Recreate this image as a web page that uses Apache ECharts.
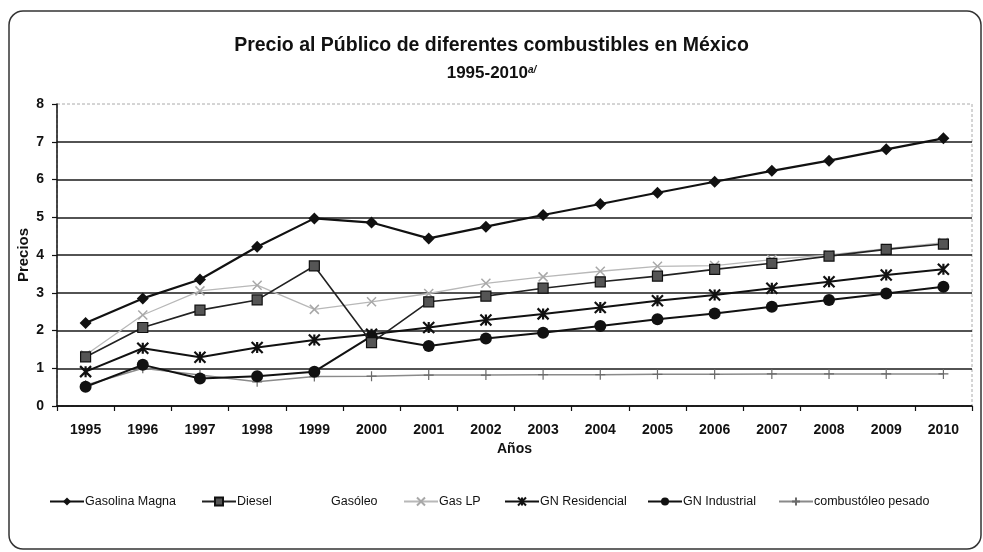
<!DOCTYPE html>
<html>
<head>
<meta charset="utf-8">
<script src="https://cdn.jsdelivr.net/npm/echarts@6/dist/echarts.min.js"></script>
<style>
  html, body { margin: 0; padding: 0; background: #fff; }
  #chart { width: 983px; height: 552px; }
</style>
</head>
<body>
<div id="chart"></div>
<script>
// Años
const years = ['1995', '1996', '1997', '1998', '1999', '2000', '2001', '2002',
               '2003', '2004', '2005', '2006', '2007', '2008', '2009', '2010'];

// Precios por combustible
const gasolinaMagna = [2.20, 2.85, 3.35, 4.22, 4.97, 4.86, 4.44, 4.75, 5.06, 5.35, 5.65, 5.94, 6.23, 6.50, 6.80, 7.09];
const diesel        = [1.30, 2.08, 2.54, 2.81, 3.71, 1.68, 2.76, 2.91, 3.12, 3.29, 3.44, 3.62, 3.78, 3.97, 4.15, 4.29];
const gasoleo       = [];
const gasLP         = [1.35, 2.41, 3.05, 3.20, 2.56, 2.76, 2.98, 3.25, 3.42, 3.57, 3.70, 3.72, 3.88, 4.00, 4.17, 4.33];
const gnResidencial = [0.91, 1.53, 1.29, 1.55, 1.75, 1.90, 2.08, 2.28, 2.44, 2.61, 2.79, 2.94, 3.12, 3.29, 3.47, 3.62];
const gnIndustrial  = [0.51, 1.09, 0.73, 0.79, 0.91, 1.85, 1.59, 1.79, 1.94, 2.12, 2.30, 2.45, 2.63, 2.81, 2.98, 3.16];
const combustoleo   = [0.55, 1.00, 0.82, 0.64, 0.78, 0.79, 0.82, 0.82, 0.83, 0.83, 0.84, 0.84, 0.85, 0.85, 0.85, 0.85];

// Eje Y
const yTicks = [0, 1, 2, 3, 4, 5, 6, 7, 8];

const FONT = '"Liberation Sans", Arial, sans-serif';
const GRID = { left: 57, right: 11, top: 104, bottom: 146 };

const SYM_X = 'path://M0,0L10,10M10,0L0,10';
const SYM_STAR = 'path://M0,0L10,10M10,0L0,10M5,0L5,10';
const SYM_PLUS = 'path://M5,0L5,10M0,5L10,5';

const chart = echarts.init(document.getElementById('chart'), null, { renderer: 'canvas' });

function legendAt(name, left) {
  return {
    data: [name], left: left, top: 495, padding: 0,
    itemWidth: 34, itemHeight: 10, itemGap: 0, selectedMode: false,
    textStyle: { fontFamily: FONT, fontSize: 12.5, color: '#111', padding: [0, 0, 0, -4] }
  };
}

const option = {
  backgroundColor: '#fff',
  animation: false,
  title: [
    {
      text: 'Precio al Público de diferentes combustibles en México',
      left: 'center', top: 31,
      textStyle: { fontFamily: FONT, fontSize: 19.5, fontWeight: 'bold', color: '#111' }
    },
    {
      text: '{a|1995-2010}{s|a/}',
      left: 'center', top: 60,
      textStyle: {
        rich: {
          a: { fontFamily: FONT, fontSize: 17, fontWeight: 'bold', color: '#111' },
          s: { fontFamily: FONT, fontSize: 10, fontWeight: 'bold', fontStyle: 'italic', color: '#111', verticalAlign: 'top' }
        }
      }
    }
  ],
  legend: [
    legendAt('Gasolina Magna', 49),
    legendAt('Diesel', 201),
    legendAt('Gasóleo', 296),
    legendAt('Gas LP', 403),
    legendAt('GN Residencial', 504),
    legendAt('GN Industrial', 647),
    legendAt('combustóleo pesado', 778)
  ],
  grid: GRID,
  xAxis: {
    type: 'category',
    data: years,
    boundaryGap: true,
    name: 'Años',
    nameLocation: 'middle',
    nameGap: 36,
    nameTextStyle: { fontFamily: FONT, fontSize: 14, fontWeight: 'bold', color: '#111' },
    axisLine: { lineStyle: { color: '#111', width: 1.5 } },
    axisTick: { show: true, interval: 0, length: 5, lineStyle: { color: '#111', width: 1.2 } },
    axisLabel: { interval: 0, margin: 17, fontFamily: FONT, fontSize: 14, fontWeight: 'bold', color: '#111' },
    splitLine: { show: false }
  },
  yAxis: {
    type: 'value',
    min: yTicks[0], max: yTicks[yTicks.length - 1], interval: 1,
    name: 'Precios',
    nameLocation: 'middle',
    nameGap: 26,
    nameMoveOverlap: false,
    nameRotate: 90,
    nameTextStyle: { fontFamily: FONT, fontSize: 15, fontWeight: 'bold', color: '#111' },
    axisLine: { show: true, lineStyle: { color: '#111', width: 1.5 } },
    axisTick: { show: true, inside: false, length: 5, lineStyle: { color: '#111', width: 1.2 } },
    axisLabel: { margin: 13, fontFamily: FONT, fontSize: 14, fontWeight: 'bold', color: '#111' },
    splitLine: {
      show: true,
      lineStyle: {
        color: ['#111', '#1a1a1a', '#1a1a1a', '#1a1a1a', '#1a1a1a', '#1a1a1a', '#1a1a1a', '#1a1a1a', 'rgba(0,0,0,0)'],
        width: 1.5
      }
    }
  },
  series: [
    {
      name: 'combustóleo pesado', type: 'line', data: combustoleo,
      symbol: SYM_PLUS, symbolSize: 10,
      lineStyle: { color: '#8a8a8a', width: 1.5 },
      itemStyle: { color: '#8a8a8a', borderColor: '#6a6a6a', borderWidth: 1.2 },
      z: 2
    },
    {
      name: 'Gasóleo', type: 'line', data: gasoleo,
      symbol: 'none',
      lineStyle: { color: 'rgba(0,0,0,0)', width: 0, opacity: 0 },
      itemStyle: { color: 'rgba(0,0,0,0)', opacity: 0 },
      z: 2
    },
    {
      name: 'Gas LP', type: 'line', data: gasLP,
      symbol: SYM_X, symbolSize: 9,
      lineStyle: { color: '#b8b8b8', width: 1.3 },
      itemStyle: { color: '#b0b0b0', borderColor: '#a8a8a8', borderWidth: 1.5 },
      z: 3
    },
    {
      name: 'GN Industrial', type: 'line', data: gnIndustrial,
      symbol: 'circle', symbolSize: 12,
      lineStyle: { color: '#111', width: 2 },
      itemStyle: { color: '#111' },
      z: 4
    },
    {
      name: 'GN Residencial', type: 'line', data: gnResidencial,
      symbol: SYM_STAR, symbolSize: 11,
      lineStyle: { color: '#111', width: 2 },
      itemStyle: { color: '#111', borderColor: '#111', borderWidth: 2.2 },
      z: 5
    },
    {
      name: 'Diesel', type: 'line', data: diesel,
      symbol: 'rect', symbolSize: 10,
      lineStyle: { color: '#222', width: 1.6 },
      itemStyle: { color: '#555', borderColor: '#111', borderWidth: 1.2 },
      z: 6
    },
    {
      name: 'Gasolina Magna', type: 'line', data: gasolinaMagna,
      symbol: 'diamond', symbolSize: 12,
      lineStyle: { color: '#111', width: 2.2 },
      itemStyle: { color: '#111' },
      z: 7
    }
  ],
  graphic: [
    {
      // marco exterior del gráfico
      type: 'rect', silent: true, z: -1,
      shape: { x: 9, y: 11, width: 972, height: 538, r: 14 },
      style: { fill: 'none', stroke: '#333', lineWidth: 1.5 }
    },
    {
      // borde punteado del área de trazado
      type: 'rect', silent: true, z: -1,
      shape: { x: GRID.left, y: GRID.top, width: 983 - GRID.left - GRID.right, height: 552 - GRID.top - GRID.bottom },
      style: { fill: 'none', stroke: '#aaa', lineWidth: 1, lineDash: [3, 2] }
    }
  ]
};

chart.setOption(option);
</script>
</body>
</html>
